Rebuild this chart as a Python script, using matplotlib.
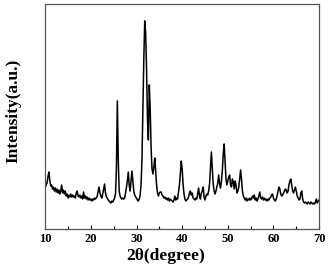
import numpy as np
import matplotlib.pyplot as plt

two_theta = np.round(np.arange(10.0, 70.01, 0.2), 1)
intensity = [
    42, 44, 46, 52, 57, 49, 43, 44, 40, 42,      # 10.0 - 11.8
    38, 41, 37, 40, 36, 39, 35, 38, 44, 36,      # 12.0 - 13.8
    39, 35, 38, 33, 35, 31, 34, 32, 35, 32,      # 14.0 - 15.8
    34, 32, 33, 31, 36, 38, 33, 32, 34, 31,      # 16.0 - 17.8
    33, 30, 37, 31, 33, 30, 32, 29, 31, 29,      # 18.0 - 19.8
    30, 28, 30, 29, 31, 30, 31, 33, 38, 42,      # 20.0 - 21.8
    36, 33, 31, 35, 40, 45, 36, 32, 31, 29,      # 22.0 - 23.8
    28, 27, 26, 28, 27, 29, 31, 35, 60, 128,     # 24.0 - 25.8
    70, 38, 33, 31, 30, 31, 30, 31, 36, 42,      # 26.0 - 27.8
    48, 57, 44, 38, 48, 58, 48, 38, 34, 32,      # 28.0 - 29.8
    31, 29, 28, 30, 34, 45, 70, 120, 170, 208,   # 30.0 - 31.8
    196, 160, 110, 89, 144, 120, 80, 60, 55, 62, # 32.0 - 33.8
    71, 58, 44, 36, 33, 36, 37, 37, 34, 33,      # 34.0 - 35.8
    31, 32, 30, 31, 29, 31, 28, 30, 29, 28,      # 36.0 - 37.8
    27, 29, 33, 29, 31, 30, 37, 44, 55, 68,      # 38.0 - 39.8
    60, 45, 35, 30, 28, 29, 30, 32, 36, 38,      # 40.0 - 41.8
    34, 36, 31, 30, 29, 31, 30, 35, 41, 33,      # 42.0 - 43.8
    30, 36, 38, 42, 32, 29, 33, 35, 34, 38,      # 44.0 - 45.8
    45, 62, 77, 60, 45, 38, 35, 38, 42, 46,      # 46.0 - 47.8
    54, 45, 41, 48, 58, 75, 85, 68, 50, 44,      # 48.0 - 49.8
    48, 52, 54, 44, 42, 50, 47, 40, 48, 44,      # 50.0 - 51.8
    36, 38, 42, 50, 59, 50, 38, 33, 31, 29,      # 52.0 - 53.8
    31, 28, 30, 29, 31, 29, 30, 33, 31, 34,      # 54.0 - 55.8
    29, 31, 28, 30, 33, 37, 31, 30, 32, 29,      # 56.0 - 57.8
    31, 29, 30, 28, 30, 29, 31, 32, 34, 35,      # 58.0 - 59.8
    31, 29, 28, 30, 33, 38, 42, 40, 35, 33,      # 60.0 - 61.8
    34, 36, 38, 40, 39, 36, 38, 44, 48, 50,      # 62.0 - 63.8
    44, 38, 36, 39, 42, 38, 33, 31, 29, 30,      # 64.0 - 65.8
    36, 38, 30, 27, 26, 27, 26, 25, 27, 26,      # 66.0 - 67.8
    25, 27, 26, 25, 26, 25, 27, 30, 26, 28,      # 68.0 - 69.8
    29,                                          # 70.0
]
two_theta = two_theta[:len(intensity)]

plt.rcParams['font.family'] = ['Liberation Serif', 'DejaVu Serif']

fig = plt.figure(figsize=(3.3, 2.74), dpi=100)
ax = fig.add_axes([0.137, 0.164, 0.830, 0.822])

ax.plot(two_theta, intensity, color='black', linewidth=1.1)

ax.set_xlim(10, 70)
ax.set_ylim(0, 225)
ax.set_xticks(np.arange(10, 71, 10))
ax.set_xticks(np.arange(15, 70, 10), minor=True)
ax.set_yticks([])
ax.tick_params(axis='x', which='major', direction='in', length=3, width=0.8,
               labelsize=9, pad=3)
ax.tick_params(axis='x', which='minor', direction='in', length=2, width=0.8)
for lab in ax.get_xticklabels():
    lab.set_fontweight('bold')

for sp in ax.spines.values():
    sp.set_color('#555555')
    sp.set_linewidth(0.9)

ax.set_xlabel('2θ(degree)', fontsize=12.5, fontweight='bold')
ax.set_ylabel('Intensity(a.u.)', fontsize=12.5, fontweight='bold')
ax.xaxis.set_label_coords(0.438, -0.085)
ax.yaxis.set_label_coords(-0.085, 0.525)

fig.savefig('out.png', dpi=100)
